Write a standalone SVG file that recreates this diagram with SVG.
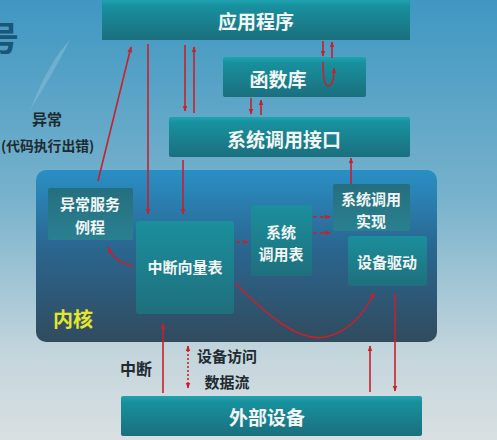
<svg xmlns="http://www.w3.org/2000/svg" width="497" height="440" viewBox="0 0 497 440">
<defs>
<linearGradient id="bg" x1="0" y1="0" x2="0" y2="1">
<stop offset="0" stop-color="#3f97c2"/>
<stop offset="0.45" stop-color="#78b2cc"/>
<stop offset="0.8" stop-color="#c3d5dc"/>
<stop offset="1" stop-color="#d9e0e2"/>
</linearGradient>
<linearGradient id="box" x1="0" y1="0" x2="0" y2="1">
<stop offset="0" stop-color="#1ea3b0"/>
<stop offset="0.15" stop-color="#18909e"/>
<stop offset="1" stop-color="#1b6f7d"/>
</linearGradient>
<linearGradient id="kern" x1="0" y1="0" x2="0" y2="1">
<stop offset="0" stop-color="#2a8fc5"/>
<stop offset="0.45" stop-color="#2a6690"/>
<stop offset="1" stop-color="#314b5e"/>
</linearGradient>
<linearGradient id="inbox" x1="0" y1="0" x2="0" y2="1">
<stop offset="0" stop-color="#1b8f9c"/>
<stop offset="1" stop-color="#1f6f7d"/>
</linearGradient>
<linearGradient id="exbox" x1="0" y1="0" x2="0" y2="1">
<stop offset="0" stop-color="#246f7f"/>
<stop offset="1" stop-color="#2a8090"/>
</linearGradient>
<marker id="ah" viewBox="0 0 10 10" refX="9" refY="5" markerWidth="6" markerHeight="6" orient="auto-start-reverse" markerUnits="userSpaceOnUse">
<path d="M0,1 L10,5 L0,9 z" fill="#c8202c"/>
</marker>
</defs>
<style>
.lbl{font-family:"Noto Sans CJK SC","Liberation Sans",sans-serif;font-weight:bold;fill:#f2f6f6;text-anchor:middle;dominant-baseline:central}
.dark{font-family:"Noto Sans CJK SC","Liberation Sans",sans-serif;font-weight:bold;fill:#1e2a30;dominant-baseline:central}
.c{fill:none;stroke:#c8202c;stroke-width:1.6}
</style>
<rect width="497" height="440" fill="url(#bg)"/>
<path d="M30,110 Q50,60 70,40 Q55,70 30,110z" fill="#9cc9de" opacity="0.4"/>
<text x="-15" y="36" class="dark" style="font-size:34px;fill:#1b5577">号</text>

<g id="app"><rect x="102" y="0" width="308" height="40" fill="url(#box)"/><text x="256" y="20" class="lbl" style="font-size:19px">应用程序</text></g>
<g id="lib"><rect x="223" y="57" width="143" height="40" rx="2" fill="url(#box)"/><text x="278" y="78" class="lbl" style="font-size:19px">函数库</text></g>
<g id="sci"><rect x="169" y="117" width="241" height="40" rx="2" fill="url(#box)"/><text x="284" y="138" class="lbl" style="font-size:19px">系统调用接口</text></g>
<g id="kernel"><rect x="36" y="170" width="401" height="172" rx="10" fill="url(#kern)"/><text x="73" y="318" class="dark" style="font-size:20px;fill:#e6e62a;text-anchor:middle">内核</text></g>
<g id="exc"><rect x="48" y="188" width="85" height="52" rx="2" fill="url(#exbox)"/><text x="90" y="203" class="lbl" style="font-size:15px">异常服务</text><text x="90" y="226" class="lbl" style="font-size:15px">例程</text></g>
<g id="ivt"><rect x="136" y="221" width="98" height="93" rx="3" fill="url(#inbox)"/><text x="185" y="266" class="lbl" style="font-size:15px">中断向量表</text></g>
<g id="sct"><rect x="251" y="205" width="61" height="71" rx="3" fill="url(#inbox)"/><text x="281" y="231" class="lbl" style="font-size:15px">系统</text><text x="281" y="253" class="lbl" style="font-size:15px">调用表</text></g>
<g id="sci_impl"><rect x="333" y="184" width="77" height="47" rx="2" fill="url(#exbox)"/><text x="371" y="198" class="lbl" style="font-size:15px">系统调用</text><text x="371" y="220" class="lbl" style="font-size:15px">实现</text></g>
<g id="drv"><rect x="348" y="236" width="79" height="50" rx="3" fill="url(#inbox)"/><text x="387" y="261" class="lbl" style="font-size:15px">设备驱动</text></g>
<g id="dev"><rect x="121" y="396" width="301" height="40" rx="2" fill="url(#box)"/><text x="267" y="416" class="lbl" style="font-size:19px">外部设备</text></g>

<g id="labels">
<text x="47" y="118" class="dark" style="font-size:15px;text-anchor:middle">异常</text>
<text x="1" y="145" class="dark" style="font-size:13.8px">(代码执行出错)</text>
<text x="136" y="368" class="dark" style="font-size:16px;text-anchor:middle">中断</text>
<text x="227" y="355" class="dark" style="font-size:15px;text-anchor:middle">设备访问</text>
<text x="227" y="381" class="dark" style="font-size:15px;text-anchor:middle">数据流</text>
</g>

<g id="connectors">
<line class="c" x1="98" y1="181" x2="131" y2="47" marker-end="url(#ah)"/>
<line class="c" x1="148" y1="44" x2="148" y2="214" marker-end="url(#ah)"/>
<line class="c" x1="185" y1="45" x2="185" y2="111" marker-end="url(#ah)"/>
<line class="c" x1="194" y1="113" x2="194" y2="47" marker-end="url(#ah)"/>
<line class="c" x1="251" y1="98" x2="251" y2="114" marker-end="url(#ah)"/>
<line class="c" x1="261" y1="115" x2="261" y2="100" marker-end="url(#ah)"/>
<line class="c" x1="323" y1="41" x2="323" y2="56" marker-end="url(#ah)"/>
<line class="c" x1="332" y1="58" x2="332" y2="42" marker-end="url(#ah)"/>
<path class="c" d="M323,62 Q323,86 328,86 Q334,86 334,68" marker-end="url(#ah)"/>
<line class="c" x1="351" y1="184" x2="351" y2="158" marker-end="url(#ah)"/>
<line class="c" x1="183" y1="160" x2="183" y2="214" marker-end="url(#ah)"/>
<line class="c" x1="313" y1="217" x2="330" y2="217" stroke-dasharray="4,3" marker-end="url(#ah)"/>
<line class="c" x1="313" y1="233" x2="330" y2="233" stroke-dasharray="4,3" marker-end="url(#ah)"/>
<line class="c" x1="236" y1="242" x2="248" y2="242" stroke-dasharray="4,3" marker-end="url(#ah)"/>
<path class="c" d="M133,266 Q115,263 108,247" marker-end="url(#ah)"/>
<path class="c" d="M235,283 C270,318 300,342 325,337 C350,332 365,312 374,293" marker-end="url(#ah)"/>
<line class="c" x1="163" y1="393" x2="163" y2="324" marker-end="url(#ah)"/>
<line class="c" x1="188" y1="346" x2="188" y2="388" stroke-dasharray="2,2" marker-start="url(#ah)" marker-end="url(#ah)"/>
<line class="c" x1="370" y1="392" x2="370" y2="346" marker-end="url(#ah)"/>
<line class="c" x1="395" y1="294" x2="395" y2="391" marker-end="url(#ah)"/>
</g>
</svg>
